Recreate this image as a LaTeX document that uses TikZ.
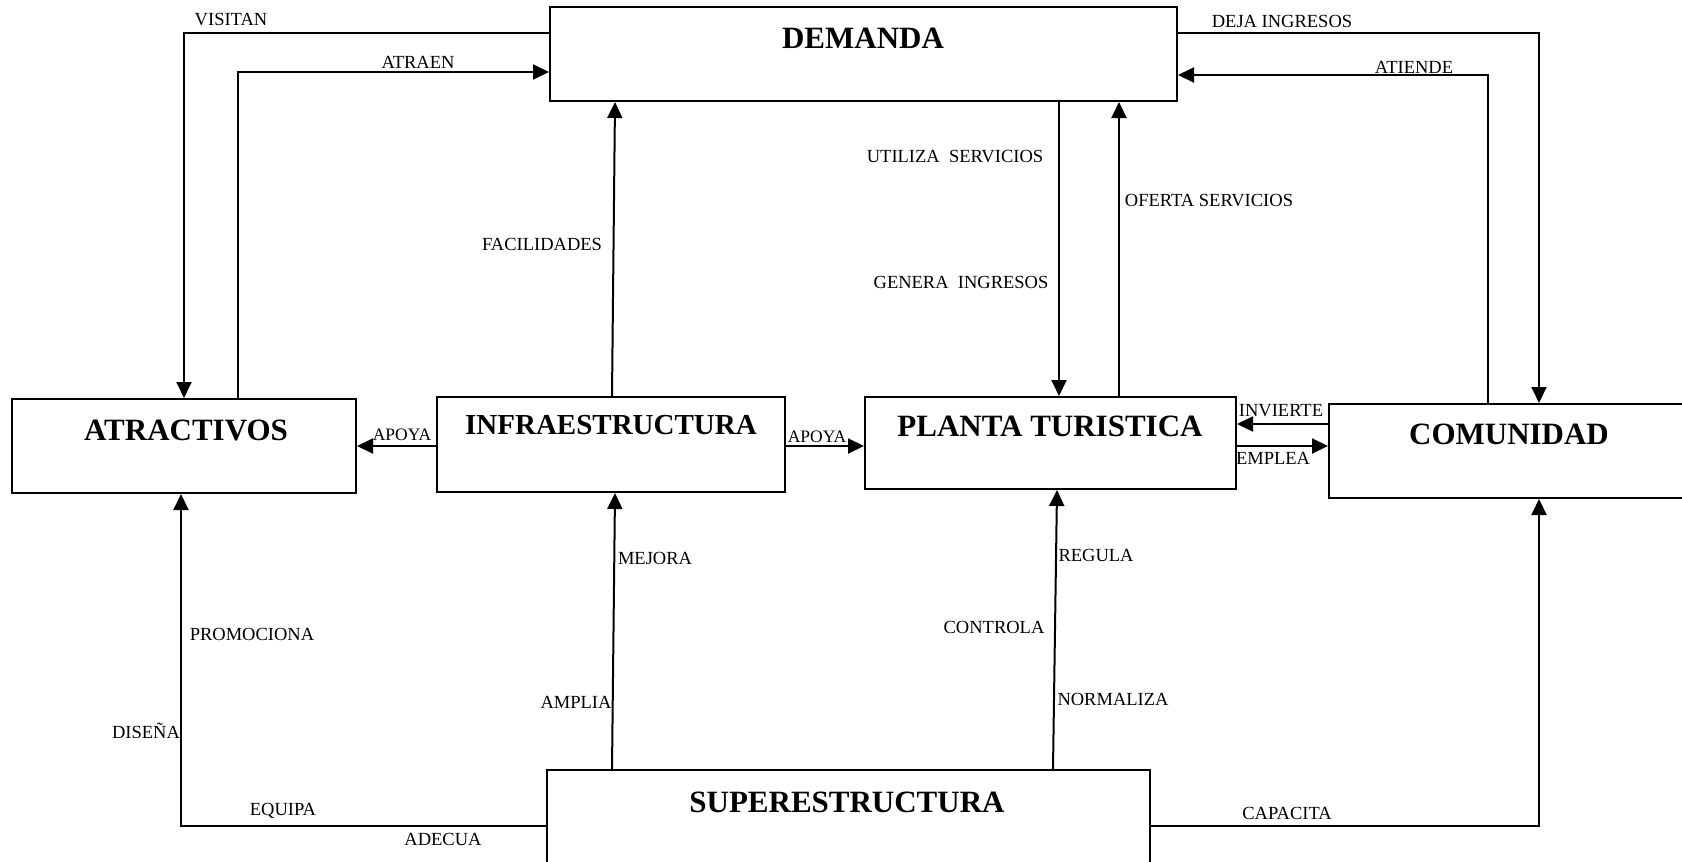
\documentclass[tikz,border=0pt]{standalone}
\usepackage{fontspec}
\setmainfont{Liberation Serif}
\usetikzlibrary{arrows.meta}

\begin{document}
\begin{tikzpicture}[x=1pt,y=-1pt,
  box/.style={draw, line width=2pt, inner sep=0pt},
  ttl/.style={font=\fontsize{31}{34}\selectfont\bfseries, inner sep=0pt, anchor=base},
  lab/.style={font=\fontsize{18.5}{20}\selectfont, inner sep=0pt},
  arr/.style={line width=2pt, -{Triangle[length=16pt,width=15pt]}}]

\useasboundingbox (0,0) rectangle (1682,862);

% boxes
\node[box, minimum width=627, minimum height=94] (dem) at (863.5,54) {};
\node[box, minimum width=344, minimum height=94] (atr) at (184,446) {};
\node[box, minimum width=348, minimum height=95] (inf) at (611,444.5) {};
\node[box, minimum width=371, minimum height=92] (pla) at (1050.5,443) {};
\node[box, minimum width=371, minimum height=94] (com) at (1514.5,451) {};
\node[box, minimum width=603, minimum height=130] (sup) at (848.5,835) {};

% box titles
\node[ttl] (demT) at (863,48) {DEMANDA};
\node[ttl] (atrT) at (186,440) {ATRACTIVOS};
\node[ttl, font=\fontsize{29}{32}\selectfont\bfseries] (infT) at (611,434) {INFRAESTRUCTURA};
\node[ttl] (plaT) at (1050,436) {PLANTA TURISTICA};
\node[ttl] (comT) at (1509,444) {COMUNIDAD};
\node[ttl] (supT) at (847,812) {SUPERESTRUCTURA};

% connectors along the top
\draw[arr] (dem.west |- 0,33) -| (atr.north);
\draw[arr] (atr.north -| 238,0) |- (dem.west |- 0,72);
\draw[arr] (dem.east |- 0,33) -| (com.north -| 1539,0);
\draw[arr] (com.north -| 1488,0) |- (dem.east |- 0,75);

% vertical connectors
\draw[arr] (dem.south -| 1059,0) -- (pla.north -| 1059,0);
\draw[arr] (pla.north -| 1119,0) -- (dem.south -| 1119,0);
\draw[arr] (inf.north -| 612,0) -- (dem.south -| 615,0);
\draw[arr] (sup.north -| 612,0) -- (inf.south -| 615,0);
\draw[arr] (sup.north -| 1053,0) -- (pla.south -| 1057,0);

% connectors along the bottom
\draw[arr] (sup.west |- 0,826) -| (atr.south -| 181,0);
\draw[arr] (sup.east |- 0,826) -| (com.south -| 1539,0);

% horizontal connectors in the middle row
\draw[arr] (inf.west |- 0,446) -- (atr.east |- 0,446);
\draw[arr] (inf.east |- 0,446) -- (pla.west |- 0,446);
\draw[arr] (com.west |- 0,424) -- (pla.east |- 0,424);
\draw[arr] (pla.east |- 0,446) -- (com.west |- 0,446);

% connector labels
\node[lab] (lVisitan) at (231,20) {VISITAN};
\node[lab] (lAtraen) at (418,62) {ATRAEN};
\node[lab] (lDeja) at (1282,21) {DEJA INGRESOS};
\node[lab] (lAtiende) at (1414,67) {ATIENDE};
\node[lab] (lUtiliza) at (955,157) {UTILIZA\ \ SERVICIOS};
\node[lab] (lOferta) at (1209,201) {OFERTA SERVICIOS};
\node[lab] (lGenera) at (961,282) {GENERA\ \ INGRESOS};
\node[lab] (lFacil) at (542,244) {FACILIDADES};
\node[lab] (lMejora) at (655,558) {MEJORA};
\node[lab] (lRegula) at (1096,555) {REGULA};
\node[lab] (lPromo) at (252,634) {PROMOCIONA};
\node[lab] (lControla) at (994,627) {CONTROLA};
\node[lab] (lAmplia) at (576,702) {AMPLIA};
\node[lab] (lNormaliza) at (1113,699) {NORMALIZA};
\node[lab] (lDisena) at (146,731) {DISEÑA};
\node[lab] (lEquipa) at (283,811) {EQUIPA};
\node[lab] (lAdecua) at (443,839) {ADECUA};
\node[lab] (lCapacita) at (1287,813) {CAPACITA};
\node[lab, font=\fontsize{17.5}{19}\selectfont] (lApoyaL) at (402,435) {APOYA};
\node[lab, font=\fontsize{17.5}{19}\selectfont] (lApoyaR) at (817,437) {APOYA};
\node[lab] (lInvierte) at (1281,411) {INVIERTE};
\node[lab] (lEmplea) at (1273,458) {EMPLEA};

\end{tikzpicture}
\end{document}
